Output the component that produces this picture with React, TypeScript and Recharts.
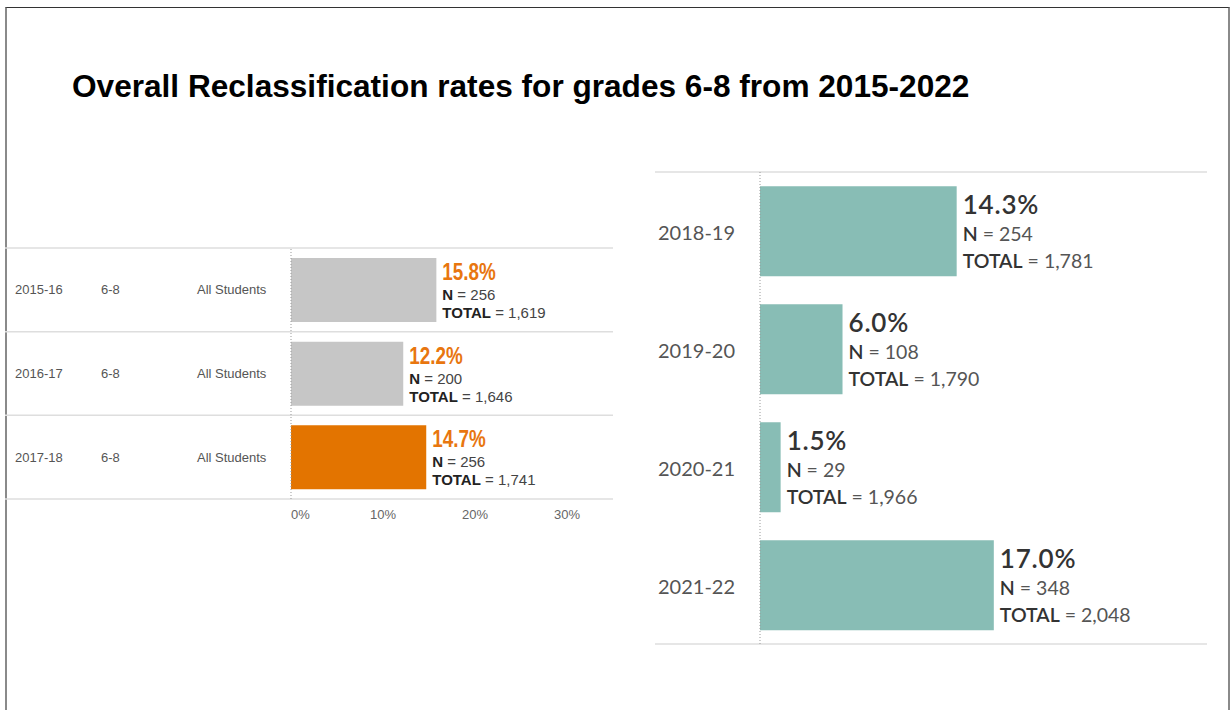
import React from 'react';
import {
  BarChart,
  Bar,
  XAxis,
  YAxis,
  CartesianGrid,
  ReferenceLine,
  LabelList,
  Cell
} from 'recharts';

const title = 'Overall Reclassification rates for grades 6-8 from 2015-2022';

// left panel: 2015-16 .. 2017-18
const leftYears = ['2015-16', '2016-17', '2017-18'];
const leftGrades = ['6-8', '6-8', '6-8'];
const leftGroups = ['All Students', 'All Students', 'All Students'];
const leftRates = [15.8, 12.2, 14.7];
const leftN = [256, 200, 256];
const leftTotals = [1619, 1646, 1741];
const leftHighlight = [false, false, true];
const leftTicks = [0, 10, 20, 30];

// right panel: 2018-19 .. 2021-22
const rightYears = ['2018-19', '2019-20', '2020-21', '2021-22'];
const rightRates = [14.3, 6.0, 1.5, 17.0];
const rightN = [254, 108, 29, 348];
const rightTotals = [1781, 1790, 1966, 2048];

const ORANGE_BAR = '#E37400';
const ORANGE_TEXT = '#E8760F';
const GRAY_BAR = '#C6C6C6';
const TEAL = '#88BDB5';
const ARIAL = "'Liberation Sans', Arial, sans-serif";
const BOOK = "Lato, 'Open Sans', sans-serif";

const leftData = leftYears.map((year, i) => ({
  year,
  grade: leftGrades[i],
  group: leftGroups[i],
  rate: leftRates[i],
  n: leftN[i],
  total: leftTotals[i]
}));

const rightData = rightYears.map((year, i) => ({
  year,
  rate: rightRates[i],
  n: rightN[i],
  total: rightTotals[i]
}));

const fmt = (v: number) => v.toLocaleString('en-US');

const LeftTick = (props: any) => {
  const { y, payload } = props;
  const i = payload.index;
  return (
    <g fontFamily={ARIAL} fontSize={13} fill="#555">
      <text x={10} y={y} dy={4.5}>{payload.value}</text>
      <text x={96} y={y} dy={4.5}>{leftGrades[i]}</text>
      <text x={192} y={y} dy={4.5}>{leftGroups[i]}</text>
    </g>
  );
};

const LeftXTick = (props: any) => {
  const { x, y, payload } = props;
  return (
    <text
      x={x}
      y={y + 3}
      dy="0.71em"
      textAnchor={payload.value === 0 ? 'start' : 'middle'}
      fontFamily={ARIAL}
      fontSize={13}
      fill="#666"
    >
      {payload.value}%
    </text>
  );
};

const LeftLabel = (props: any) => {
  const { x, y, width, height, index } = props;
  const tx = x + width + 6;
  const cy = y + height / 2;
  return (
    <g fontFamily={ARIAL}>
      {/* condensed bold percentage */}
      <text
        transform={`translate(${tx},${cy - 10}) scale(0.82,1)`}
        fontWeight="bold"
        fontSize={23}
        fill={ORANGE_TEXT}
      >
        {leftRates[index].toFixed(1)}%
      </text>
      <text x={tx} y={cy + 10} fontSize={15} fill="#444">
        <tspan fontWeight="bold" fill="#222">N</tspan> = {leftN[index]}
      </text>
      <text x={tx} y={cy + 28} fontSize={15} fill="#444">
        <tspan fontWeight="bold" fill="#222">TOTAL</tspan> = {fmt(leftTotals[index])}
      </text>
    </g>
  );
};

const RightTick = (props: any) => {
  const { y, payload } = props;
  return (
    <text x={3} y={y} dy={9} fontFamily={BOOK} fontSize={20} fill="#555">
      {payload.value}
    </text>
  );
};

const RightLabel = (props: any) => {
  const { x, y, width, height, index } = props;
  const tx = x + width + 6;
  const cy = y + height / 2;
  return (
    <g fontFamily={BOOK}>
      <text x={tx} y={cy - 17.5} fontSize={26} fontWeight={600} letterSpacing={0.8} fill="#333">
        {rightRates[index].toFixed(1)}%
      </text>
      <text x={tx} y={cy + 10} fontSize={19.5} fill="#555">
        <tspan fontWeight={600} fill="#333">N</tspan> = {rightN[index]}
      </text>
      <text x={tx} y={cy + 37} fontSize={19.5} fill="#555">
        <tspan fontWeight={600} fill="#333">TOTAL</tspan> = {fmt(rightTotals[index])}
      </text>
    </g>
  );
};

export default function App() {
  return (
    <div style={{ position: 'fixed', left: 0, top: 0, width: 1231, height: 710, background: '#fff', overflow: 'hidden' }}>
      <div
        style={{
          position: 'absolute',
          left: 5,
          top: 7,
          width: 1225,
          height: 720,
          boxSizing: 'border-box',
          borderTop: '1px solid #333',
          borderLeft: '2px solid #8a8a8a',
          borderRight: '2px solid #8a8a8a'
        }}
      />
      <div
        style={{
          position: 'absolute',
          left: 72,
          top: 69,
          fontFamily: ARIAL,
          fontWeight: 'bold',
          fontSize: 31.6,
          lineHeight: '34px',
          color: '#000',
          whiteSpace: 'nowrap'
        }}
      >
        {title}
      </div>

      <div style={{ position: 'absolute', left: 5, top: 240 }}>
        <BarChart
          layout="vertical"
          width={608}
          height={289}
          data={leftData}
          margin={{ top: 8, right: 0, bottom: 0, left: 0 }}
          barCategoryGap="12%"
        >
          <CartesianGrid
            vertical={false}
            x={0}
            width={608}
            stroke="#dedede"
            strokeWidth={1.5}
            horizontalCoordinatesGenerator={({ offset }: any) =>
              leftYears.concat('').map((_, i) => offset.top + (i * offset.height) / leftYears.length)
            }
          />
          <XAxis
            type="number"
            domain={[0, 35]}
            ticks={leftTicks}
            axisLine={false}
            tickLine={false}
            height={30}
            tick={<LeftXTick />}
          />
          <YAxis
            type="category"
            dataKey="year"
            width={286}
            axisLine={false}
            tickLine={false}
            tick={<LeftTick />}
          />
          <ReferenceLine x={0} stroke="#999" strokeDasharray="1 2" />
          <Bar dataKey="rate" isAnimationActive={false}>
            {leftData.map((d, i) => (
              <Cell key={d.year} fill={leftHighlight[i] ? ORANGE_BAR : GRAY_BAR} />
            ))}
            <LabelList dataKey="rate" content={<LeftLabel />} />
          </Bar>
        </BarChart>
      </div>

      <div style={{ position: 'absolute', left: 655, top: 164 }}>
        <BarChart
          layout="vertical"
          width={552}
          height={488}
          data={rightData}
          margin={{ top: 8, right: 0, bottom: 8, left: 0 }}
          barCategoryGap="12%"
        >
          <CartesianGrid
            vertical={false}
            x={0}
            width={552}
            stroke="#dedede"
            strokeWidth={1.5}
            horizontalCoordinatesGenerator={({ offset }: any) => [offset.top, offset.top + offset.height]}
          />
          <XAxis type="number" domain={[0, 32.5]} hide />
          <YAxis
            type="category"
            dataKey="year"
            width={105}
            axisLine={false}
            tickLine={false}
            tick={<RightTick />}
          />
          <ReferenceLine x={0} stroke="#999" strokeDasharray="1 2" />
          <Bar dataKey="rate" fill={TEAL} isAnimationActive={false}>
            <LabelList dataKey="rate" content={<RightLabel />} />
          </Bar>
        </BarChart>
      </div>
    </div>
  );
}
